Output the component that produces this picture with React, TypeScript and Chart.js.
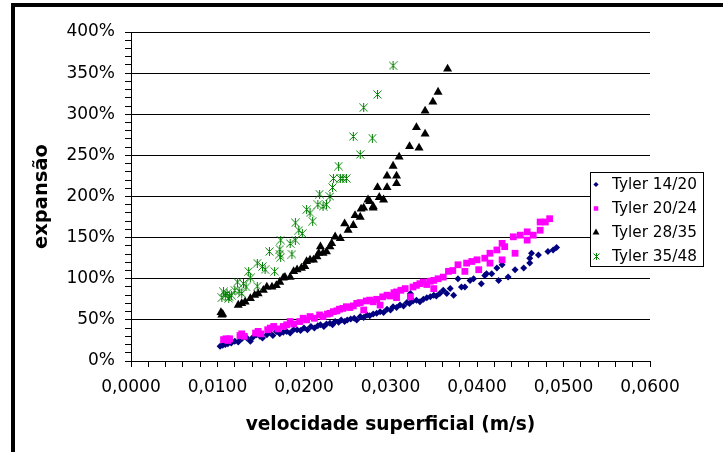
import React, { useEffect, useRef } from 'react';
import { Chart, registerables } from 'chart.js';
import { drawPoint } from 'chart.js/helpers';

Chart.register(...registerables);

const seriesNames = ['Tyler 14/20', 'Tyler 20/24', 'Tyler 28/35', 'Tyler 35/48'];
const seriesColors = ['#000080', '#FF00FF', '#000000', '#008000'];

const xAxisTitle = 'velocidade superficial (m/s)';
const yAxisTitle = 'expansão';

const tyler1420: [number, number][] = [
  [0.0103, 18], [0.0106, 19], [0.0109, 20], [0.0112, 21], [0.0116, 22], [0.0120, 24], [0.0124, 23], [0.0128, 27],
  [0.0134, 28], [0.0138, 24], [0.0141, 29], [0.0145, 32], [0.0149, 30], [0.0152, 28], [0.0157, 32], [0.0160, 35],
  [0.0164, 31], [0.0168, 36], [0.0172, 33], [0.0176, 35], [0.0180, 36], [0.0184, 34], [0.0188, 38], [0.0192, 38],
  [0.0196, 37], [0.0200, 40], [0.0204, 38], [0.0208, 42], [0.0212, 40], [0.0216, 43], [0.0219, 44], [0.0223, 42],
  [0.0226, 45], [0.0230, 46], [0.0233, 44], [0.0236, 48], [0.0240, 47], [0.0243, 50], [0.0247, 48], [0.0250, 50],
  [0.0254, 51], [0.0258, 52], [0.0261, 50], [0.0265, 54], [0.0269, 53], [0.0273, 56], [0.0276, 55], [0.0280, 57],
  [0.0284, 58], [0.0288, 60], [0.0292, 59], [0.0296, 63], [0.0300, 62], [0.0303, 66], [0.0307, 65], [0.0311, 68],
  [0.0315, 67], [0.0319, 71], [0.0322, 70], [0.0323, 82], [0.0326, 73], [0.0330, 74], [0.0334, 72], [0.0338, 75],
  [0.0342, 77], [0.0346, 78], [0.0350, 80], [0.0353, 79], [0.0357, 82], [0.0361, 86], [0.0365, 82], [0.0369, 88],
  [0.0373, 80], [0.0378, 100], [0.0382, 90], [0.0386, 90], [0.0392, 98], [0.0396, 100], [0.0405, 94], [0.0409, 104],
  [0.0411, 106], [0.0417, 106], [0.0423, 113], [0.0425, 98], [0.0429, 117], [0.0436, 102], [0.0444, 111], [0.0454, 113],
  [0.0461, 119], [0.0461, 125], [0.0463, 131], [0.0471, 129], [0.0482, 133], [0.0488, 135], [0.0492, 138],
];

const tyler2024: [number, number][] = [
  [0.0107, 26], [0.0110, 27], [0.0112, 25], [0.0114, 27], [0.0126, 31], [0.0128, 33], [0.0131, 30], [0.0144, 34],
  [0.0147, 36], [0.0150, 33], [0.0158, 38], [0.0161, 40], [0.0165, 42], [0.0170, 39], [0.0176, 42], [0.0180, 44],
  [0.0184, 48], [0.0188, 45], [0.0195, 48], [0.0199, 52], [0.0203, 50], [0.0207, 54], [0.0212, 52], [0.0218, 56],
  [0.0222, 54], [0.0227, 57], [0.0230, 58], [0.0234, 60], [0.0238, 61], [0.0241, 63], [0.0245, 64], [0.0249, 66],
  [0.0253, 65], [0.0257, 67], [0.0261, 70], [0.0265, 71], [0.0269, 62], [0.0272, 73], [0.0276, 74], [0.0280, 72],
  [0.0284, 75], [0.0288, 68], [0.0291, 78], [0.0296, 80], [0.0300, 79], [0.0304, 83], [0.0307, 84], [0.0307, 77],
  [0.0312, 86], [0.0317, 88], [0.0323, 78], [0.0326, 90], [0.0330, 92], [0.0334, 94], [0.0338, 96], [0.0342, 93],
  [0.0346, 97], [0.0350, 98], [0.0350, 88], [0.0355, 100], [0.0361, 102], [0.0367, 109], [0.0372, 110], [0.0378, 117],
  [0.0386, 109], [0.0388, 119], [0.0394, 121], [0.0400, 123], [0.0402, 111], [0.0409, 125], [0.0415, 119], [0.0415, 131],
  [0.0423, 135], [0.0429, 143], [0.0429, 123], [0.0432, 139], [0.0442, 151], [0.0444, 131], [0.0450, 153], [0.0458, 157],
  [0.0458, 147], [0.0465, 153], [0.0473, 159], [0.0473, 169], [0.0479, 169], [0.0484, 173],
];

const tyler2835: [number, number][] = [
  [0.0104, 59], [0.0105, 56], [0.0106, 57], [0.0124, 68], [0.0128, 70], [0.0132, 72], [0.0138, 76], [0.0143, 80],
  [0.0147, 82], [0.0153, 86], [0.0157, 90], [0.0163, 90], [0.0168, 92], [0.0172, 96], [0.0176, 101], [0.0178, 102],
  [0.0184, 102], [0.0188, 109], [0.0192, 111], [0.0197, 113], [0.0201, 115], [0.0203, 121], [0.0207, 123], [0.0211, 123],
  [0.0215, 127], [0.0217, 131], [0.0219, 139], [0.0222, 131], [0.0226, 133], [0.0230, 139], [0.0232, 143], [0.0236, 151],
  [0.0242, 149], [0.0247, 167], [0.0251, 159], [0.0257, 165], [0.0259, 177], [0.0265, 175], [0.0266, 185], [0.0269, 186],
  [0.0274, 196], [0.0276, 194], [0.0280, 186], [0.0280, 188], [0.0285, 211], [0.0287, 199], [0.0292, 196], [0.0296, 225],
  [0.0296, 211], [0.0303, 237], [0.0307, 225], [0.0307, 216], [0.0310, 248], [0.0322, 261], [0.0330, 284], [0.0333, 259],
  [0.0340, 304], [0.0340, 276], [0.0349, 315], [0.0355, 327], [0.0366, 355],
];

const tyler3548: [number, number][] = [
  [0.0105, 77], [0.0107, 84], [0.0109, 80], [0.0111, 82], [0.0113, 76], [0.0114, 78], [0.0116, 80], [0.0120, 86],
  [0.0123, 96], [0.0125, 85], [0.0128, 82], [0.0130, 94], [0.0133, 90], [0.0136, 109], [0.0138, 101], [0.0146, 91],
  [0.0146, 119], [0.0152, 115], [0.0155, 111], [0.0160, 133], [0.0166, 109], [0.0172, 136], [0.0172, 130], [0.0173, 126],
  [0.0173, 147], [0.0184, 143], [0.0186, 130], [0.0190, 147], [0.0190, 168], [0.0194, 159], [0.0198, 155], [0.0203, 184],
  [0.0207, 180], [0.0210, 170], [0.0216, 190], [0.0218, 203], [0.0222, 188], [0.0226, 190], [0.0230, 200], [0.0233, 211],
  [0.0234, 222], [0.0240, 237], [0.0242, 222], [0.0245, 222], [0.0249, 222], [0.0257, 273], [0.0265, 251], [0.0269, 308],
  [0.0279, 271], [0.0285, 324], [0.0303, 359],
];

const xMin = 0;
const xMax = 0.06;
const xMinorStep = 0.002;
const xMajorStep = 0.01;
const yMin = 0;
const yMax = 400;
const yMinorStep = 10;
const yMajorStep = 50;

function makeStar(size: number, color: string): HTMLCanvasElement {
  const c = document.createElement('canvas');
  c.width = size + 1;
  c.height = size + 1;
  const g = c.getContext('2d')!;
  g.strokeStyle = color;
  g.lineWidth = 1;
  g.beginPath();
  g.moveTo(0.5, 0.5); g.lineTo(size + 0.5, size + 0.5);
  g.moveTo(size + 0.5, 0.5); g.lineTo(0.5, size + 0.5);
  g.moveTo(size / 2 + 0.5, 0); g.lineTo(size / 2 + 0.5, size + 1);
  g.stroke();
  return c;
}

export default function App() {
  const ref = useRef<HTMLCanvasElement>(null);

  useEffect(() => {
    if (!ref.current) return;
    const star = makeStar(8, seriesColors[3]);
    const legendStar = makeStar(6, seriesColors[3]);
    const pointStyles: any[] = ['rectRot', 'rect', 'triangle', star];
    const radii = [3.5, 4.8, 5.2, 4];
    const legendStyles: any[] = ['rectRot', 'rect', 'triangle', legendStar];
    const legendRadii = [2.6, 3.2, 4, 3];

    const legendPlugin = {
      id: 'boxLegend',
      afterDraw(chart: any) {
        const ctx = chart.ctx as CanvasRenderingContext2D;
        ctx.save();
        const bx = 590.5, by = 172.5, bw = 113, bh = 94;
        ctx.fillStyle = '#fff';
        ctx.fillRect(bx, by, bw, bh);
        ctx.strokeStyle = '#000';
        ctx.lineWidth = 1;
        ctx.strokeRect(bx, by, bw, bh);
        chart.data.datasets.forEach((ds: any, i: number) => {
          const y = by + 12 + i * 24;
          const mx = 596;
          const st = legendStyles[i];
          if (typeof st === 'string') {
            ctx.fillStyle = seriesColors[i];
            ctx.strokeStyle = seriesColors[i];
            drawPoint(ctx, { pointStyle: st, rotation: 0, radius: legendRadii[i], borderWidth: 0 } as any, mx, y);
          } else {
            ctx.drawImage(st, Math.round(mx - st.width / 2), Math.round(y - st.height / 2));
          }
          ctx.fillStyle = '#000';
          ctx.font = '15.3px "DejaVu Sans"';
          ctx.textBaseline = 'middle';
          ctx.textAlign = 'left';
          ctx.fillText(ds.label, 612, y + 1);
        });
        ctx.restore();
      },
    };

    const seriesData = [tyler1420, tyler2024, tyler2835, tyler3548];
    const isMultiple = (v: number, step: number) => Math.abs(v / step - Math.round(v / step)) < 1e-6;

    const chart = new Chart(ref.current, {
      type: 'scatter',
      data: {
        datasets: seriesData.map((s, i) => ({
          label: seriesNames[i],
          data: s.map(([x, y]) => ({ x, y })),
          pointStyle: pointStyles[i],
          pointRadius: radii[i],
          backgroundColor: seriesColors[i],
          borderColor: seriesColors[i],
          borderWidth: 0,
          order: 4 - i,
        })),
      },
      options: {
        responsive: false,
        animation: false,
        layout: { padding: { left: 0, top: 32, right: 73, bottom: 0 } },
        plugins: { legend: { display: false }, tooltip: { enabled: false } },
        scales: {
          x: {
            type: 'linear',
            min: xMin,
            max: xMax,
            afterFit: (s: any) => { s.height = 91; },
            ticks: {
              stepSize: xMinorStep,
              autoSkip: false,
              maxRotation: 0,
              padding: 10,
              color: '#000',
              font: { family: 'DejaVu Sans', size: 17 },
              callback: (v: any) => (isMultiple(Number(v), xMajorStep) ? Number(v).toFixed(4).replace('.', ',') : ''),
            },
            grid: { drawOnChartArea: false, tickLength: 6, tickColor: '#000' },
            border: { color: '#000', width: 1 },
            title: {
              display: true,
              text: xAxisTitle,
              color: '#000',
              font: { family: 'DejaVu Sans', size: 18.6, weight: 'bold' },
              padding: { top: 0, bottom: 16 },
            },
          },
          y: {
            type: 'linear',
            min: yMin,
            max: yMax,
            afterFit: (s: any) => { s.width = 131; },
            ticks: {
              stepSize: yMinorStep,
              autoSkip: false,
              padding: 10,
              color: '#000',
              font: { family: 'DejaVu Sans', size: 17 },
              callback: (v: any) => (isMultiple(Number(v), yMajorStep) ? `${v}%` : ''),
            },
            grid: {
              color: (c: any) => (c.tick && isMultiple(c.tick.value, yMajorStep) ? '#000' : 'rgba(0,0,0,0)'),
              tickColor: '#000',
              tickLength: 6,
            },
            border: { color: '#000', width: 1 },
            title: {
              display: true,
              text: yAxisTitle,
              color: '#000',
              font: { family: 'DejaVu Sans', size: 19.5, weight: 'bold' },
              padding: { top: 30, bottom: 0 },
            },
          },
        },
      },
      plugins: [legendPlugin],
    } as any);
    return () => chart.destroy();
  }, []);

  return (
    <div style={{ position: 'fixed', left: 0, top: 0, width: 723, height: 452, overflow: 'hidden', background: '#fff' }}>
      <canvas ref={ref} width={723} height={452} style={{ display: 'block', width: 723, height: 452 }} />
      <div
        style={{
          position: 'absolute',
          left: 11,
          top: 3,
          width: 800,
          height: 600,
          borderLeft: '4px solid #000',
          borderTop: '4px solid #000',
          pointerEvents: 'none',
        }}
      />
    </div>
  );
}
